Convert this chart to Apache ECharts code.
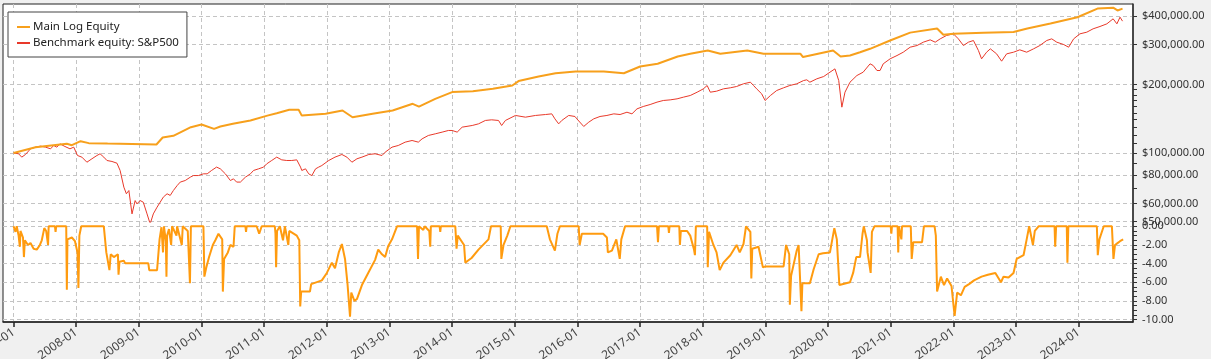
<!DOCTYPE html>
<html><head><meta charset="utf-8">
<script src="https://cdn.jsdelivr.net/npm/echarts@6/dist/echarts.min.js"></script>
<style>html,body{margin:0;padding:0;background:#f0f0f0;} #c{width:1211px;height:359px;}</style>
</head><body><div id="c"></div>
<script>
// ---- data (x = decimal year) ----
const xMin = 2006.831, xMax = 2024.867;
const yearTicks = [2007,2008,2009,2010,2011,2012,2013,2014,2015,2016,2017,2018,2019,2020,2021,2022,2023,2024];
const equityTicks = [50000,60000,80000,100000,200000,300000,400000];
const equityTickMarks = [50000,60000,70000,80000,90000,100000,110000,120000,130000,140000,150000,160000,170000,180000,190000,200000,300000,400000];
const ddTicks = [0,-2,-4,-6,-8,-10];
const ddTickMarks = [0,-0.5,-1,-1.5,-2,-2.5,-3,-3.5,-4,-4.5,-5,-5.5,-6,-6.5,-7,-7.5,-8,-8.5,-9,-9.5,-10];

const mainEquity = [[2007.00,100000],[2007.35,106000],[2007.85,109800],[2007.93,108200],[2008.07,112700],[2008.2,110500],[2008.5,110000],[2009.28,109000],[2009.38,117000],[2009.55,119000],[2009.83,129800],[2010.0,133500],[2010.2,127700],[2010.3,130800],[2010.5,134400],[2010.78,138900],[2011.05,146000],[2011.2,149600],[2011.4,155000],[2011.55,155000],[2011.6,146000],[2011.98,148600],[2012.25,153700],[2012.41,143600],[2012.73,148600],[2013.05,153700],[2013.37,164500],[2013.47,160000],[2013.73,172900],[2014.0,185200],[2014.33,187000],[2014.65,191600],[2014.96,198000],[2015.06,207000],[2015.38,216700],[2015.65,224000],[2015.97,228000],[2016.42,228000],[2016.74,224000],[2017.0,240000],[2017.28,246700],[2017.6,265600],[2017.8,272800],[2018.08,282000],[2018.28,272800],[2018.71,282000],[2018.97,272800],[2019.56,272800],[2019.6,263900],[2020.08,282000],[2020.2,265600],[2020.35,268000],[2020.51,277000],[2020.67,287000],[2020.99,312000],[2021.31,338000],[2021.74,352500],[2021.84,330800],[2022.0,334000],[2022.48,338000],[2022.96,340000],[2023.18,352500],[2023.55,370800],[2023.98,395000],[2024.3,431000],[2024.55,435000],[2024.62,423000],[2024.7,431000]];

const benchEquity = [[2007.00,100000],[2007.08,99200],[2007.13,95900],[2007.19,98500],[2007.27,104300],[2007.35,106100],[2007.43,107200],[2007.51,106100],[2007.59,104300],[2007.64,107900],[2007.69,106100],[2007.74,109700],[2007.82,106800],[2007.90,104300],[2007.96,106100],[2008.02,97500],[2008.09,95900],[2008.17,91100],[2008.25,94300],[2008.33,97500],[2008.38,99200],[2008.44,95900],[2008.49,92700],[2008.57,91800],[2008.65,90200],[2008.70,83800],[2008.76,70800],[2008.80,66200],[2008.84,68400],[2008.89,54000],[2008.94,61800],[2008.97,59800],[2009.02,61800],[2009.07,60800],[2009.13,54000],[2009.18,48800],[2009.23,54000],[2009.29,57800],[2009.34,60800],[2009.39,64000],[2009.45,66200],[2009.50,65100],[2009.55,68400],[2009.61,71900],[2009.66,74500],[2009.74,75700],[2009.82,78300],[2009.87,79600],[2009.95,79600],[2010.03,81000],[2010.09,81000],[2010.16,83800],[2010.24,86700],[2010.30,85200],[2010.38,81000],[2010.46,75700],[2010.51,77000],[2010.56,74500],[2010.62,74500],[2010.70,78300],[2010.78,81000],[2010.83,83800],[2010.91,85200],[2010.99,86700],[2011.04,89600],[2011.12,92700],[2011.20,95900],[2011.28,93300],[2011.36,92700],[2011.44,92700],[2011.52,93300],[2011.58,86700],[2011.60,83800],[2011.66,85200],[2011.71,81000],[2011.76,79600],[2011.82,85200],[2011.87,86700],[2011.92,88100],[2012.03,92700],[2012.13,95900],[2012.24,98500],[2012.32,95900],[2012.40,91100],[2012.48,94300],[2012.56,95900],[2012.67,98500],[2012.77,99200],[2012.88,97500],[2012.93,100800],[2013.04,106100],[2013.14,107900],[2013.25,111600],[2013.36,113500],[2013.46,111600],[2013.52,115400],[2013.62,119400],[2013.73,121400],[2013.84,123500],[2013.94,125600],[2014.00,125600],[2014.08,123500],[2014.16,129900],[2014.32,132100],[2014.42,134300],[2014.53,139000],[2014.63,139900],[2014.74,139000],[2014.79,132100],[2014.85,139000],[2015.01,146200],[2015.17,143700],[2015.33,146200],[2015.49,147600],[2015.59,148600],[2015.64,141300],[2015.70,134300],[2015.75,139000],[2015.86,146200],[2015.96,144700],[2015.99,141300],[2016.10,130800],[2016.18,136600],[2016.26,141300],[2016.36,144700],[2016.47,146200],[2016.58,148600],[2016.68,147600],[2016.79,151100],[2016.87,148600],[2016.95,156300],[2017.05,160100],[2017.16,163300],[2017.27,167300],[2017.37,170100],[2017.48,171200],[2017.59,173000],[2017.69,175900],[2017.80,178900],[2017.91,185000],[2018.01,191400],[2018.07,198000],[2018.12,185000],[2018.22,186900],[2018.33,191400],[2018.44,193400],[2018.54,196000],[2018.65,201400],[2018.76,204700],[2018.81,198000],[2018.86,191400],[2018.94,182000],[2018.995,170100],[2019.08,178900],[2019.18,188200],[2019.29,193400],[2019.39,198000],[2019.50,201400],[2019.61,208200],[2019.66,209700],[2019.71,204700],[2019.82,211800],[2019.93,216800],[2020.03,226500],[2020.11,234300],[2020.17,208200],[2020.22,159000],[2020.27,185000],[2020.35,204700],[2020.46,219000],[2020.56,226500],[2020.67,246500],[2020.72,242400],[2020.78,230400],[2020.83,230400],[2020.88,246500],[2020.99,259300],[2021.10,268100],[2021.20,277300],[2021.31,291700],[2021.42,296700],[2021.52,306900],[2021.63,314200],[2021.71,306900],[2021.79,317400],[2021.89,328300],[2022.00,333900],[2022.08,317400],[2022.16,296700],[2022.24,306900],[2022.32,312100],[2022.40,282000],[2022.45,259300],[2022.53,277300],[2022.59,286900],[2022.69,272700],[2022.77,253200],[2022.85,272700],[2022.96,277300],[2023.06,284000],[2023.17,277300],[2023.28,286900],[2023.38,296700],[2023.49,312100],[2023.57,317400],[2023.65,306900],[2023.76,299700],[2023.84,291700],[2023.92,317400],[2024.02,333900],[2024.13,339600],[2024.23,351300],[2024.34,359700],[2024.45,369500],[2024.55,388700],[2024.61,369500],[2024.66,395300],[2024.70,379600]];

const drawdown = [[2007.00,0],[2007.03,-0.6],[2007.05,0],[2007.08,-1.0],[2007.10,-2.2],[2007.11,-0.5],[2007.15,-1.2],[2007.165,-3.3],[2007.18,-1.5],[2007.23,-2.0],[2007.27,-1.8],[2007.32,-2.4],[2007.37,-2.5],[2007.42,-2.0],[2007.45,-1.5],[2007.49,-0.2],[2007.52,-0.5],[2007.55,-2.0],[2007.56,0],[2007.66,0],[2007.67,-0.6],[2007.68,0],[2007.84,0],[2007.85,-6.8],[2007.86,-1.4],[2007.93,-1.2],[2007.98,-1.6],[2008.02,-2.8],[2008.035,-6.6],[2008.05,-1.0],[2008.08,0],[2008.44,0],[2008.48,-2.8],[2008.53,-4.7],[2008.55,-3.0],[2008.60,-3.3],[2008.665,-3.0],[2008.675,-5.2],[2008.69,-3.8],[2008.76,-3.7],[2008.78,-3.95],[2009.15,-3.95],[2009.165,-4.7],[2009.29,-4.7],[2009.33,-1.4],[2009.36,-0.1],[2009.385,-2.8],[2009.40,0],[2009.43,-1.6],[2009.44,-5.4],[2009.45,-1.0],[2009.48,-0.3],[2009.515,-2.0],[2009.53,0],[2009.60,-1.0],[2009.61,0],[2009.685,-2.0],[2009.70,0],[2009.78,-0.5],[2009.815,-6.1],[2009.83,0],[2010.03,0],[2010.045,-5.4],[2010.08,-4.3],[2010.12,-3.3],[2010.18,-2.0],[2010.22,-1.5],[2010.27,-0.8],[2010.33,-1.4],[2010.34,-7.0],[2010.36,-3.5],[2010.42,-2.8],[2010.46,-2.0],[2010.51,-2.2],[2010.53,0],[2010.70,0],[2010.71,-0.6],[2010.72,0],[2010.88,0],[2010.92,-0.8],[2010.96,0],[2011.17,0],[2011.18,-0.8],[2011.19,-4.4],[2011.205,-0.5],[2011.25,0],[2011.30,-1.5],[2011.33,0],[2011.385,-2.0],[2011.40,-0.5],[2011.52,-1.0],[2011.56,-1.5],[2011.575,-8.6],[2011.59,-7.0],[2011.73,-7.0],[2011.75,-6.2],[2011.92,-5.8],[2012.0,-5.0],[2012.08,-3.9],[2012.13,-4.5],[2012.19,-2.8],[2012.24,-1.9],[2012.29,-3.5],[2012.33,-6.2],[2012.37,-9.7],[2012.39,-7.1],[2012.44,-8.0],[2012.48,-7.8],[2012.56,-6.3],[2012.66,-5.0],[2012.77,-3.6],[2012.82,-2.5],[2012.88,-3.0],[2012.93,-3.3],[2012.98,-2.1],[2013.04,-1.4],[2013.12,0],[2013.44,0],[2013.455,-3.5],[2013.47,0],[2013.54,-0.4],[2013.56,0],[2013.635,-0.5],[2013.65,-2.2],[2013.66,0],[2013.80,0],[2013.81,-0.6],[2013.82,0],[2014.05,0],[2014.07,-2.4],[2014.09,-1.0],[2014.19,-2.0],[2014.21,-3.9],[2014.25,-3.7],[2014.31,-3.4],[2014.42,-2.5],[2014.58,-1.4],[2014.62,0],[2014.775,0],[2014.785,-3.5],[2014.82,-2.0],[2014.88,-1.0],[2014.93,0],[2015.51,0],[2015.56,-1.4],[2015.64,-2.6],[2015.68,-0.8],[2015.72,0],[2016.02,0],[2016.035,-2.0],[2016.07,-0.8],[2016.41,-0.8],[2016.47,-1.2],[2016.485,-2.8],[2016.55,-2.6],[2016.62,-1.4],[2016.675,-3.5],[2016.70,-1.4],[2016.76,0],[2017.27,0],[2017.285,-1.7],[2017.30,0],[2017.45,0],[2017.46,-0.7],[2017.47,0],[2017.625,0],[2017.635,-2.0],[2017.65,-0.5],[2017.75,-0.5],[2017.80,-1.0],[2017.86,-2.5],[2017.875,-3.1],[2017.89,0],[2018.07,0],[2018.08,-4.4],[2018.10,-0.6],[2018.17,-2.0],[2018.22,-2.8],[2018.27,-4.7],[2018.33,-3.9],[2018.44,-3.1],[2018.54,-2.0],[2018.59,-2.8],[2018.65,-1.9],[2018.69,0],[2018.76,-0.6],[2018.775,-5.6],[2018.79,-2.4],[2018.89,-2.2],[2018.96,-4.4],[2019.00,-4.3],[2019.29,-4.3],[2019.33,-2.0],[2019.38,-3.0],[2019.39,-8.4],[2019.41,-5.3],[2019.50,-2.6],[2019.53,-2.0],[2019.575,-9.1],[2019.59,-6.1],[2019.71,-6.1],[2019.77,-4.6],[2019.85,-3.0],[2019.92,-2.9],[2020.03,-2.8],[2020.10,-0.2],[2020.14,-1.4],[2020.18,-6.3],[2020.35,-6.0],[2020.40,-5.0],[2020.45,-3.3],[2020.51,-3.3],[2020.55,-0.8],[2020.57,0],[2020.62,-1.5],[2020.63,-2.8],[2020.68,-5.0],[2020.70,-0.6],[2020.74,0],[2021.00,0],[2021.01,-0.8],[2021.02,0],[2021.11,0],[2021.12,-2.8],[2021.13,0],[2021.17,-1.4],[2021.18,0],[2021.32,0],[2021.335,-3.5],[2021.36,-1.7],[2021.50,-1.7],[2021.53,0],[2021.70,0],[2021.72,-1.0],[2021.74,-7.0],[2021.80,-5.4],[2021.85,-6.3],[2021.90,-5.6],[2021.97,-6.4],[2022.02,-9.6],[2022.06,-7.1],[2022.12,-7.4],[2022.18,-6.5],[2022.25,-6.2],[2022.33,-5.8],[2022.45,-5.4],[2022.55,-5.2],[2022.67,-5.0],[2022.76,-6.0],[2022.80,-5.4],[2022.88,-5.5],[2022.96,-5.0],[2023.01,-3.5],[2023.12,-3.1],[2023.17,-1.4],[2023.21,0],[2023.27,-2.0],[2023.30,-0.5],[2023.36,0],[2023.615,0],[2023.625,-2.2],[2023.64,0],[2023.81,0],[2023.82,-3.9],[2023.835,0],[2024.29,0],[2024.305,-3.1],[2024.33,-1.4],[2024.36,-1.2],[2024.40,0],[2024.53,0],[2024.555,-3.5],[2024.58,-2.0],[2024.62,-1.8],[2024.66,-1.6],[2024.71,-1.4]];

// ---- chart ----
const FONT = '"Noto Sans", "DejaVu Sans", sans-serif';
const GRID_L = 3, GRID_R = 78;
const dash = {type: [4, 3], color: '#c4c4c4', width: 1};
function money(v) {
  const s = Math.round(v).toString().replace(/\B(?=(\d{3})+(?!\d))/g, ',');
  return '$' + s + '.00';
}
const chart = echarts.init(document.getElementById('c'), null, {renderer: 'canvas'});
chart.setOption({
  animation: false,
  backgroundColor: '#f0f0f0',
  textStyle: {fontFamily: FONT},
  legend: {
    data: ['Main Log Equity', 'Benchmark equity: S&P500'],
    orient: 'vertical', left: 8, top: 12,
    padding: [8, 8, 7, 9], itemGap: 2,
    itemWidth: 13, itemHeight: 2, icon: 'rect',
    backgroundColor: '#fff', borderColor: '#444', borderWidth: 1,
    textStyle: {fontSize: 11.5, color: '#222', fontFamily: FONT, lineHeight: 14, padding: [0,0,0,-2]}
  },
  grid: [
    {left: GRID_L, right: GRID_R, top: 4, bottom: 37, show: true, backgroundColor: '#fff', borderColor: '#222', borderWidth: 1, outerBoundsMode: 'none', containLabel: false},
    {left: GRID_L, right: GRID_R, top: 4, height: 218, outerBoundsMode: 'none', containLabel: false},
    {left: GRID_L, right: GRID_R, top: 222, bottom: 37, outerBoundsMode: 'none', containLabel: false}
  ],
  xAxis: [
    {gridIndex: 0, type: 'value', show: false, min: 0, max: 1},
    {gridIndex: 1, type: 'value', min: xMin, max: xMax,
      axisLine: {show: false}, axisTick: {show: false, customValues: yearTicks},
      axisLabel: {show: false, customValues: yearTicks},
      splitLine: {show: true, lineStyle: dash}},
    {gridIndex: 2, type: 'value', min: xMin, max: xMax, position: 'bottom',
      axisLine: {show: true, onZero: false, lineStyle: {color: '#222', width: 1.5}},
      axisTick: {show: true, length: 5, customValues: yearTicks, lineStyle: {color: '#222', width: 1.5}},
      axisLabel: {customValues: yearTicks, rotate: 35, align: 'right', verticalAlign: 'middle', margin: 9,
        fontSize: 12, color: '#444', fontFamily: FONT, formatter: v => v + '-01', hideOverlap: false},
      splitLine: {show: true, lineStyle: dash}}
  ],
  yAxis: [
    {gridIndex: 0, type: 'value', show: false, min: 0, max: 1},
    {gridIndex: 1, type: 'log', logBase: 10, min: 49750, max: 451600, position: 'right',
      axisLine: {show: true, lineStyle: {color: '#333', width: 1.5}},
      axisTick: {show: true, length: 4, customValues: equityTickMarks, lineStyle: {color: '#333'}},
      axisLabel: {customValues: equityTicks, margin: 9, fontSize: 11, color: '#333', fontFamily: FONT, formatter: money},
      splitLine: {show: false}},
    {gridIndex: 1, type: 'log', logBase: 10, min: 49750, max: 451600, position: 'right',
      axisLine: {show: false}, axisTick: {show: false, customValues: equityTicks},
      axisLabel: {show: false, customValues: equityTicks},
      splitLine: {show: true, lineStyle: dash}},
    {gridIndex: 2, type: 'value', min: -10.26, max: 0.46, position: 'right',
      axisLine: {show: true, lineStyle: {color: '#333', width: 1.5}},
      axisTick: {show: true, length: 4, customValues: ddTickMarks, lineStyle: {color: '#333'}},
      axisLabel: {customValues: ddTicks, margin: 9, fontSize: 11, color: '#333', fontFamily: FONT, formatter: v => v.toFixed(2)},
      splitLine: {show: false}},
    {gridIndex: 2, type: 'value', min: -10.26, max: 0.46, position: 'right',
      axisLine: {show: false}, axisTick: {show: false, customValues: ddTicks},
      axisLabel: {show: false, customValues: ddTicks},
      splitLine: {show: true, lineStyle: dash}}
  ],
  series: [
    {name: 'Benchmark equity: S&P500', type: 'line', xAxisIndex: 1, yAxisIndex: 1, data: benchEquity,
      color: '#e8392a', showSymbol: false, symbol: 'none', lineStyle: {width: 1, color: '#e8392a'}, z: 3},
    {name: 'Main Log Equity', type: 'line', xAxisIndex: 1, yAxisIndex: 1, data: mainEquity,
      color: '#f7a01c', showSymbol: false, symbol: 'none', lineStyle: {width: 2, color: '#f7a01c'}, z: 4},
    {name: 'Drawdown', type: 'line', xAxisIndex: 2, yAxisIndex: 3, data: drawdown,
      color: '#ff9b0f', showSymbol: false, symbol: 'none', lineStyle: {width: 2, color: '#ff9b0f'}, z: 4}
  ]
});
</script></body></html>
